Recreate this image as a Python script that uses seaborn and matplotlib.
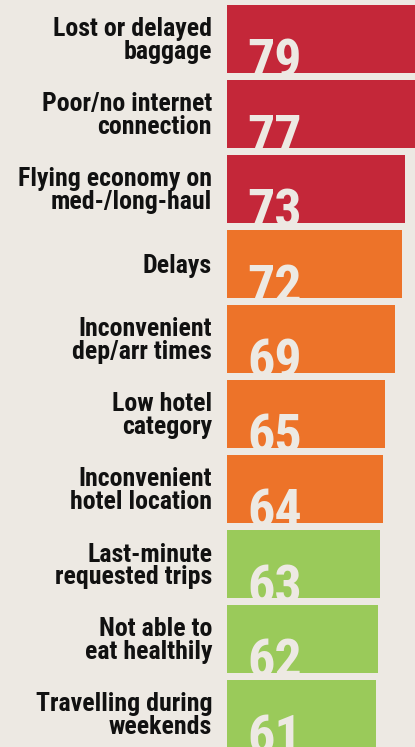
import matplotlib
matplotlib.use("Agg")
import matplotlib.pyplot as plt
from matplotlib import font_manager as fm
import seaborn as sns

labels = [
    "Lost or delayed\nbaggage",
    "Poor/no internet\nconnection",
    "Flying economy on\nmed-/long-haul",
    "Delays",
    "Inconvenient\ndep/arr times",
    "Low hotel\ncategory",
    "Inconvenient\nhotel location",
    "Last-minute\nrequested trips",
    "Not able to\neat healthily",
    "Travelling during\nweekends",
]
values = [79, 77, 73, 72, 69, 65, 64, 63, 62, 61]
groups = ["red", "red", "red", "orange", "orange", "orange", "orange", "green", "green", "green"]

group_colors = {"red": "#c42739", "orange": "#ed7329", "green": "#9aca5a"}
bg = "#ede9e3"

# look for a narrow bold face, the original uses a DIN-like font
installed = {f.name for f in fm.fontManager.ttflist}
family, stretch = None, "normal"
for cand in ["Roboto Condensed", "DejaVu Sans Condensed", "Liberation Sans Narrow",
             "Open Sans Condensed", "Noto Sans Condensed"]:
    if cand in installed:
        family = cand
        break
if family is None:
    for f in fm.fontManager.ttflist:
        if f.stretch in ("condensed", "semi-condensed") and f.weight in ("bold", 700):
            family, stretch = f.name, f.stretch
            break
if family is None:
    family = "Roboto"
    lab_size, num_size = 15.5, 36
else:
    lab_size, num_size = 18.6, 39

sns.set_style("white")
plt.rcParams["font.family"] = [family, "DejaVu Sans"]

fig = plt.figure(figsize=(4.15, 7.47), dpi=100, facecolor=bg)
ax = fig.add_axes([227 / 415, 0, 1 - 227 / 415, 1])
ax.set_facecolor(bg)

palette = [group_colors[g] for g in groups]
sns.barplot(x=values, y=labels, hue=labels, palette=palette, legend=False,
            orient="h", width=0.907, saturation=1, linewidth=0, ax=ax)

ax.set_xlim(0, 77.2)
ax.set_ylim(9.44, -0.52)
for s in ax.spines.values():
    s.set_visible(False)
ax.set_xticks([])
ax.tick_params(axis="y", length=0, pad=10.8)
ax.set_yticks(range(len(labels)))
ax.set_yticklabels(labels, fontsize=lab_size, fontweight="bold", color="#111111",
                   linespacing=0.92, fontstretch=stretch)
ax.set_xlabel("")
ax.set_ylabel("")

bars = sorted(ax.patches, key=lambda p: p.get_y())
for i, (bar, v) in enumerate(zip(bars, values)):
    t = ax.text(8.4, i + 0.52, str(v), fontsize=num_size, fontweight="bold",
                fontstretch=stretch, color=bg, ha="left", va="baseline")
    t.set_clip_path(bar)

fig.savefig("out.png", dpi=100, facecolor=bg)
